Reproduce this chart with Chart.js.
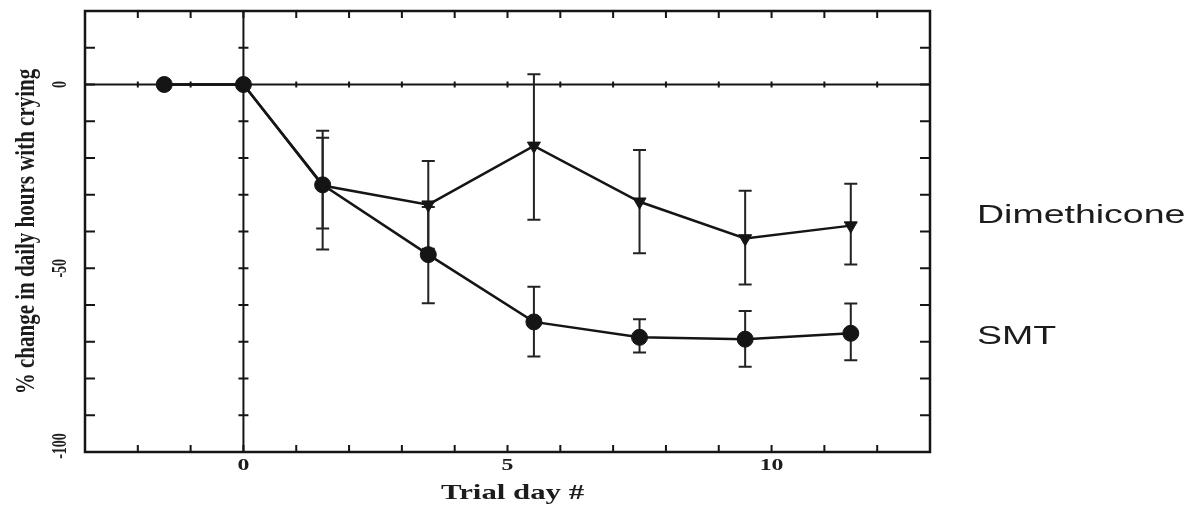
<!DOCTYPE html>
<html>
<head>
<meta charset="utf-8">
<script src="https://cdn.jsdelivr.net/npm/chart.js@4/dist/chart.umd.min.js"></script>
<style>
html, body { margin: 0; padding: 0; background: #fff; }
</style>
</head>
<body>
<canvas id="crying" width="1200" height="511"></canvas>
<script>
// values
const trialDays = [-1.5, 0, 1.5, 3.5, 5.5, 7.5, 9.5, 11.5];
const dimMean = [0, 0, -27.5, -32.7, -16.7, -31.9, -41.9, -38.4];
const dimHigh = [null, null, -12.6, -20.8, 2.8, -17.8, -28.9, -27];
const dimLow = [null, null, -44.9, -44.7, -36.8, -45.9, -54.4, -49];
const smtMean = [0, 0, -27.3, -46.3, -64.6, -68.8, -69.3, -67.7];
const smtHigh = [null, null, -14.5, -33.3, -55, -63.9, -61.6, -59.6];
const smtLow = [null, null, -39.2, -59.5, -74, -72.9, -76.8, -75];
const xTickLabels = [0, 5, 10];
const yTickLabels = [0, -50, -100];
const seriesNames = ['Dimethicone', 'SMT'];
const xTitle = 'Trial day #';
const yTitle = '% change in daily hours with crying';

const ink = '#151515';
const toPoints = ys => trialDays.map((d, i) => ({ x: d, y: ys[i] }));

// stretched text, like the scanned figure
function stretchText(ctx, txt, x, y, font, sx, rot) {
  ctx.save();
  ctx.translate(x, y);
  ctx.scale(sx, 1);
  if (rot) ctx.rotate(rot);
  ctx.font = font;
  ctx.fillStyle = '#1c1c1c';
  ctx.textAlign = 'center';
  ctx.textBaseline = 'middle';
  ctx.fillText(txt, 0, 0);
  ctx.restore();
}

const framePlugin = {
  id: 'frame',
  beforeDatasetsDraw(chart) {
    const { ctx, chartArea: a, scales: { x, y } } = chart;
    ctx.save();
    ctx.strokeStyle = ink;
    ctx.lineCap = 'butt';
    ctx.lineWidth = 2.5;
    ctx.strokeRect(a.left, a.top, a.right - a.left, a.bottom - a.top);

    const y0 = y.getPixelForValue(0);
    const x0 = x.getPixelForValue(0);
    ctx.lineWidth = 2;
    ctx.beginPath();
    ctx.moveTo(a.left, y0); ctx.lineTo(a.right, y0);
    ctx.moveTo(x0, a.top); ctx.lineTo(x0, a.bottom);
    ctx.stroke();

    ctx.beginPath();
    x.ticks.forEach(t => {
      const px = x.getPixelForValue(t.value);
      if (px <= a.left + 1 || px >= a.right - 1) return;
      ctx.moveTo(px, a.bottom); ctx.lineTo(px, a.bottom - 7);
      ctx.moveTo(px, a.top); ctx.lineTo(px, a.top + 7);
      ctx.moveTo(px, y0 - 3); ctx.lineTo(px, y0 + 3);
    });
    y.ticks.forEach(t => {
      const py = y.getPixelForValue(t.value);
      if (py <= a.top + 1 || py >= a.bottom - 1) return;
      ctx.moveTo(a.left, py); ctx.lineTo(a.left + 10, py);
      ctx.moveTo(a.right, py); ctx.lineTo(a.right - 10, py);
      ctx.moveTo(x0 - 5, py); ctx.lineTo(x0 + 5, py);
    });
    ctx.stroke();
    ctx.restore();
  }
};

const errorBarPlugin = {
  id: 'errorBars',
  beforeDatasetsDraw(chart) {
    const { ctx, scales: { x, y } } = chart;
    const bars = [[dimHigh, dimLow], [smtHigh, smtLow]];
    ctx.save();
    ctx.strokeStyle = '#222';
    ctx.lineWidth = 2;
    bars.forEach(([hi, lo]) => {
      trialDays.forEach((d, i) => {
        if (hi[i] == null) return;
        const px = x.getPixelForValue(d);
        const pt = y.getPixelForValue(hi[i]);
        const pb = y.getPixelForValue(lo[i]);
        ctx.beginPath();
        ctx.moveTo(px, pt); ctx.lineTo(px, pb);
        ctx.moveTo(px - 6.5, pt); ctx.lineTo(px + 6.5, pt);
        ctx.moveTo(px - 6.5, pb); ctx.lineTo(px + 6.5, pb);
        ctx.stroke();
      });
    });
    ctx.restore();
  }
};

const textPlugin = {
  id: 'texts',
  afterDraw(chart) {
    const { ctx, chartArea: a, scales: { x, y } } = chart;
    xTickLabels.forEach(v => {
      stretchText(ctx, String(v), x.getPixelForValue(v), a.bottom + 14, 'bold 17px "Liberation Serif"', 1.4);
    });
    stretchText(ctx, xTitle, (a.left + a.right) / 2 + 5, a.bottom + 41, 'bold 22px "Liberation Serif"', 1.4);
    yTickLabels.forEach(v => {
      const py = Math.min(y.getPixelForValue(v), a.bottom - 6);
      stretchText(ctx, String(v), 61, py, 'bold 14px "Liberation Serif"', 1.45, -Math.PI / 2);
    });
    stretchText(ctx, yTitle, 27, (a.top + a.bottom) / 2, 'bold 21px "Liberation Serif"', 1.35, -Math.PI / 2);

    const lastY = [dimMean, smtMean].map(s => y.getPixelForValue(s[s.length - 1]));
    ctx.save();
    ctx.font = '25px "Liberation Sans"';
    seriesNames.forEach((name, i) => {
      const w = ctx.measureText(name).width * 1.5;
      const off = i === 0 ? -10 : 4;
      stretchText(ctx, name, a.right + 47 + w / 2, lastY[i] + off, '25px "Liberation Sans"', 1.5);
    });
    ctx.restore();
  }
};

new Chart(document.getElementById('crying'), {
  type: 'scatter',
  data: {
    datasets: [
      {
        label: seriesNames[0],
        data: toPoints(dimMean),
        showLine: true,
        borderColor: ink,
        backgroundColor: ink,
        borderWidth: 2.5,
        pointStyle: 'triangle',
        rotation: 180,
        pointRadius: 7.5,
        pointBorderWidth: 1
      },
      {
        label: seriesNames[1],
        data: toPoints(smtMean),
        showLine: true,
        borderColor: ink,
        backgroundColor: ink,
        borderWidth: 2.5,
        pointStyle: 'circle',
        pointRadius: 8,
        pointBorderWidth: 1
      }
    ]
  },
  options: {
    responsive: false,
    animation: false,
    layout: { padding: { left: 0, right: 270, top: 11, bottom: 0 } },
    plugins: { legend: { display: false }, tooltip: { enabled: false } },
    scales: {
      x: {
        type: 'linear', min: -3, max: 13,
        ticks: { display: false, stepSize: 1 },
        grid: { display: false }, border: { display: false },
        afterFit: s => { s.height = 59; }
      },
      y: {
        type: 'linear', min: -100, max: 20,
        ticks: { display: false, stepSize: 10 },
        grid: { display: false }, border: { display: false },
        afterFit: s => { s.width = 85; }
      }
    }
  },
  plugins: [framePlugin, errorBarPlugin, textPlugin]
});
</script>
</body>
</html>
